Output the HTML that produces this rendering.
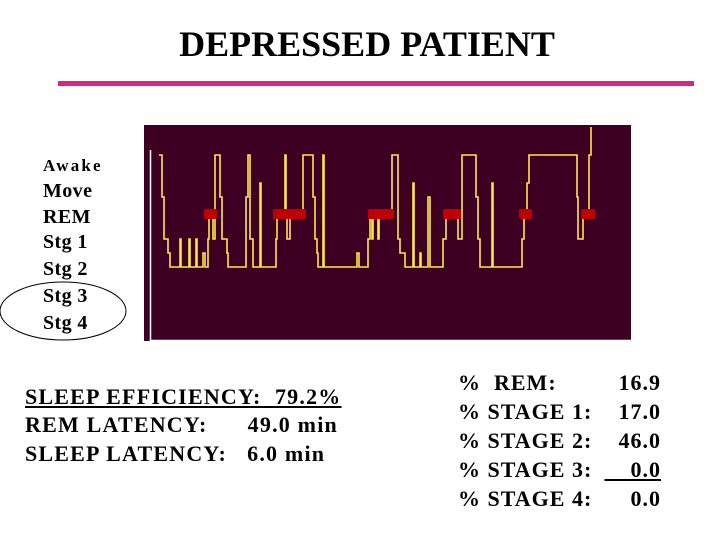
<!DOCTYPE html>
<html><head><meta charset="utf-8"><style>
body{margin:0;background:#fff;}
#c{position:relative;width:720px;height:540px;overflow:hidden;font-family:"Liberation Serif",serif;color:#000;}
.t{position:absolute;white-space:nowrap;font-weight:bold;}
.b{font-size:22px;letter-spacing:1.2px;}
.r{letter-spacing:1px;}
.l{font-size:20px;letter-spacing:0.4px;}
</style></head><body>
<div id="c">
<div class="t" style="left:0;width:734px;text-align:center;top:23px;font-size:36px;">DEPRESSED PATIENT</div>
<div style="position:absolute;left:58px;top:81px;width:636px;height:5px;background:#dd2288;"></div>
<div class="t" style="left:43px;top:156px;font-size:17px;letter-spacing:2.2px;">Awake</div>
<div class="t l" style="left:43px;top:180px;">Move</div>
<div class="t l" style="left:43px;top:206px;">REM</div>
<div class="t l" style="left:43px;top:231px;">Stg 1</div>
<div class="t l" style="left:43px;top:258px;">Stg 2</div>
<div class="t l" style="left:43px;top:285px;">Stg 3</div>
<div class="t l" style="left:43px;top:312px;">Stg 4</div>
<svg style="position:absolute;left:0;top:0" width="720" height="540">
<ellipse cx="63" cy="311" rx="63" ry="29" fill="none" stroke="#000" stroke-width="1"/>
</svg>
<svg id="hyp" style="position:absolute;left:0;top:0" width="720" height="540"></svg>
<div class="t b" style="left:25px;top:384px;text-decoration:underline;">SLEEP EFFICIENCY:&nbsp; 79.2%</div>
<div class="t b" style="left:25px;top:412px;">REM LATENCY:&nbsp;&nbsp;&nbsp;&nbsp;&nbsp; 49.0 min</div>
<div class="t b" style="left:25px;top:441px;">SLEEP LATENCY:&nbsp;&nbsp; 6.0 min</div>
<div class="t b r" style="left:458px;top:370px;">%&nbsp; REM:</div>
<div class="t b r" style="left:458px;top:399px;">% STAGE 1:</div>
<div class="t b r" style="left:458px;top:428px;">% STAGE 2:</div>
<div class="t b r" style="left:458px;top:457px;">% STAGE 3:</div>
<div class="t b r" style="left:458px;top:486px;">% STAGE 4:</div>
<div class="t b r" style="right:59px;top:370px;">16.9</div>
<div class="t b r" style="right:59px;top:399px;">17.0</div>
<div class="t b r" style="right:59px;top:428px;">46.0</div>
<div class="t b r" style="right:59px;top:457px;text-decoration:underline;">&nbsp;&nbsp;&nbsp;&nbsp;0.0</div>
<div class="t b r" style="right:59px;top:486px;">0.0</div>
</div>
<script>
// stage indices: 0 wake,1 arousal,2 move,3 REM,4 S1,5 S2,6 S3
const epochTimes = [0,3,5,9,11,21,22,30,31,37,38,44,46,49,50,54,56,61,63,68,69,87,89,91,94,101,102,117,118,126,127,128,131,144,154,156,158,159,164,165,198,200,209,211,213,214,219,220,233,239,241,246,254,255,261,262,269,271,284,287,299,303,317,319,321,333,334,363,365,368,370,418,419,424,430];
const epochStages = [0,2,4,5,6,4,6,4,6,4,6,5,6,4,3,4,0,2,4,5,6,2,0,4,6,1,6,4,3,0,3,4,3,0,2,4,5,6,0,6,5,6,4,3,4,3,4,3,0,4,5,6,1,6,5,6,2,6,4,3,4,0,2,4,6,1,6,4,3,1,0,2,4,3,0];
const remStarts = [47,116,211,286,362,424];
const remEnds = [56,145,233,300,371,434];
const endTime = 432;
const stageY = [155,183,197,214,239,253,267];
const svg = document.getElementById('hyp');
const NS = 'http://www.w3.org/2000/svg';
const x = t => 159 + t;
const y = s => stageY[s];
const bg = document.createElementNS(NS,'rect');


bg.setAttribute('x',144);bg.setAttribute('y',125);bg.setAttribute('width',487);bg.setAttribute('height',216);bg.setAttribute('fill','#3d0022');
svg.appendChild(bg);
const ax = document.createElementNS(NS,'path');


ax.setAttribute('d','M150.5 150 V340.5 H631');ax.setAttribute('stroke','#fff');ax.setAttribute('stroke-width','1.5');ax.setAttribute('fill','none');
svg.appendChild(ax);
let d='M'+x(epochTimes[0])+' '+y(epochStages[0])+' ';
for(let i=0;i<epochTimes.length;i++){
  if(i>0) d += 'V'+y(epochStages[i])+' ';
  const xe = i<epochTimes.length-1 ? x(epochTimes[i+1]) : x(endTime);
  d += 'H'+xe+' ';
}
d+='V127';
const p = document.createElementNS(NS,'path');


p.setAttribute('d',d);p.setAttribute('stroke','#ffe84a');p.setAttribute('stroke-width','1.6');p.setAttribute('fill','none');
svg.appendChild(p);
for(let i=0;i<remStarts.length;i++){
  const r = document.createElementNS(NS,'rect');
  
  
  r.setAttribute('x',x(remStarts[i])-2);r.setAttribute('y',209);r.setAttribute('width',x(remEnds[i])-x(remStarts[i])+4);r.setAttribute('height',10);r.setAttribute('rx',2);r.setAttribute('fill','#c00000');
  svg.appendChild(r);
}
</script>
</body></html>
